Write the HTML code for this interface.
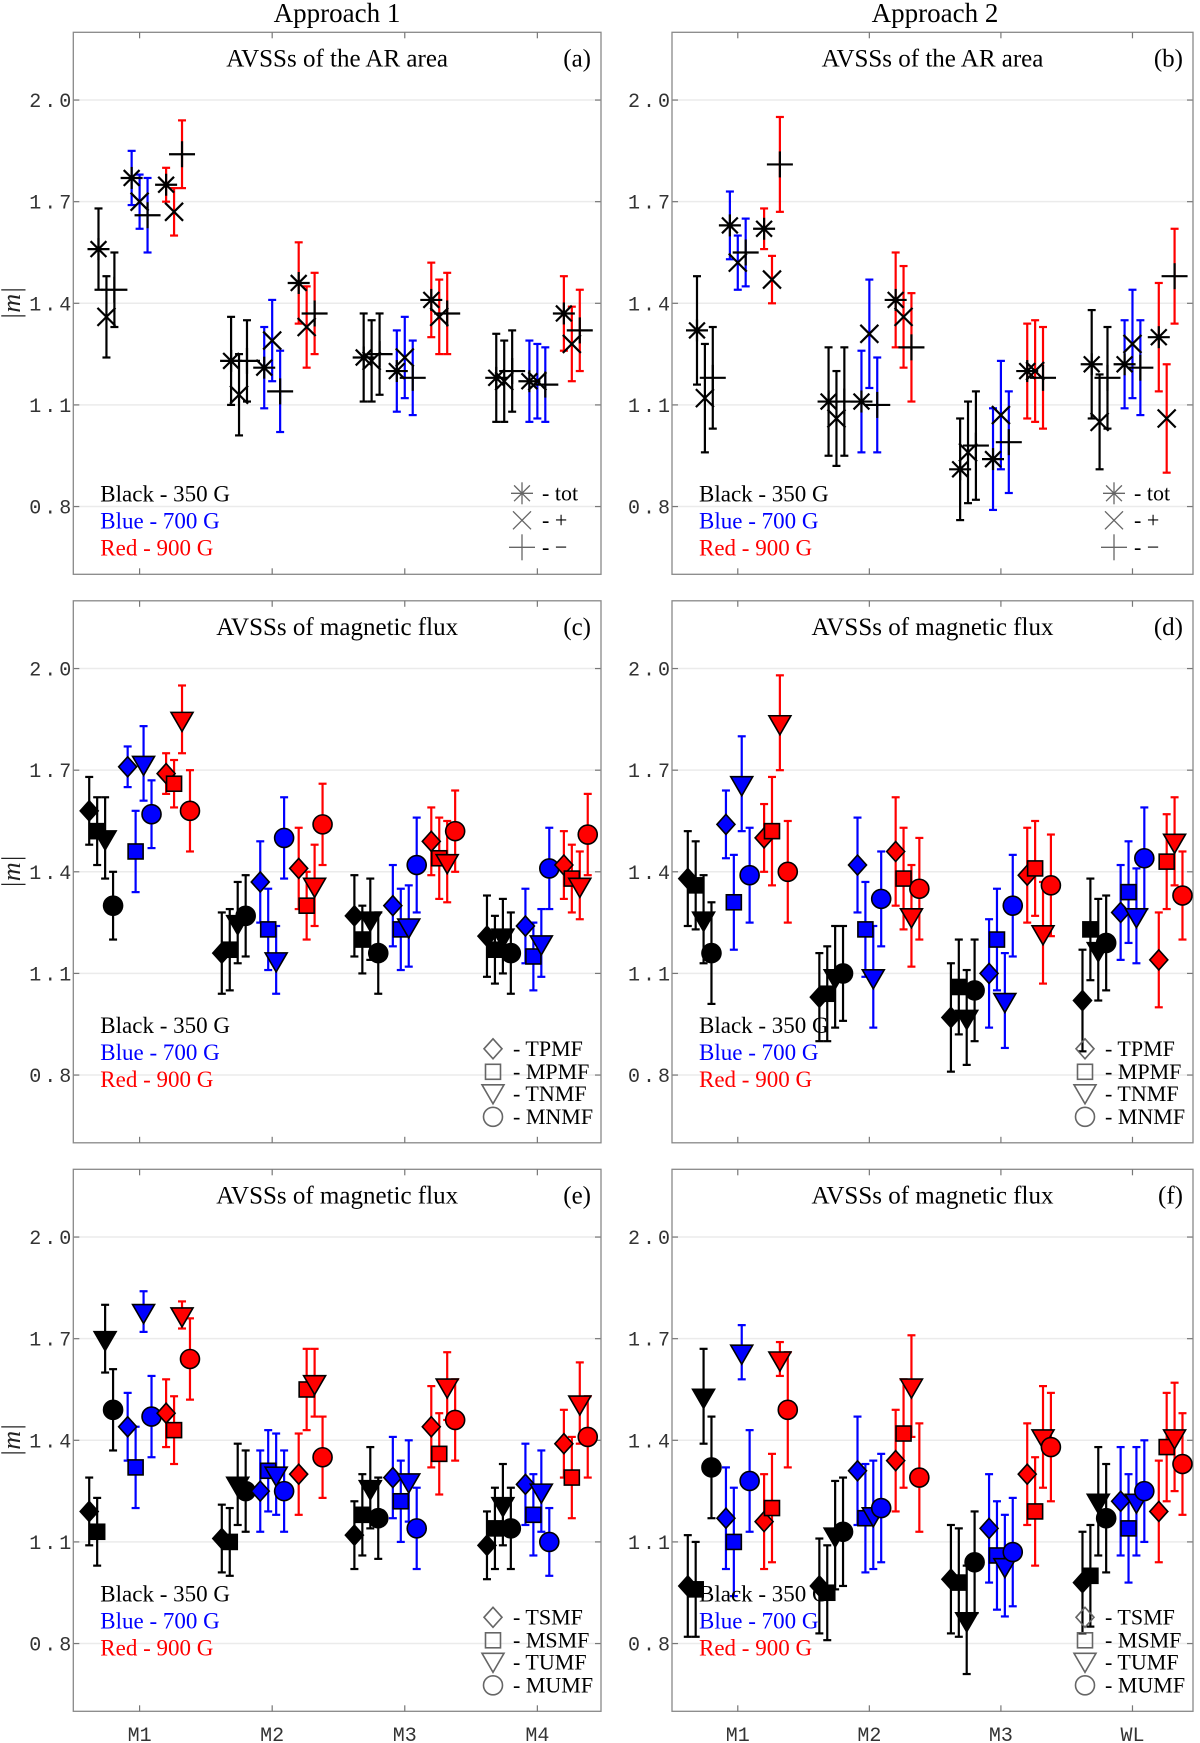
<!DOCTYPE html>
<html><head><meta charset="utf-8">
<style>
html,body{margin:0;padding:0;background:#fff;}
svg{display:block;}
</style></head>
<body>
<svg id="fig" width="1200" height="1743" viewBox="0 0 1200 1743" xmlns="http://www.w3.org/2000/svg"></svg>
<script>
// ---------- data ----------
const catsLeft = ["M1","M2","M3","M4"];
const catsRight = ["M1","M2","M3","WL"];
const yTicks = [0.8, 1.1, 1.4, 1.7, 2.0];
const yTickLabels = ["0.8","1.1","1.4","1.7","2.0"];
const colorNames = ["Black - 350 G","Blue - 700 G","Red - 900 G"];
const legendA = ["- tot","- +","- \u2212"];
const legendC = ["- TPMF","- MPMF","- TNMF","- MNMF"];
const legendE = ["- TSMF","- MSMF","- TUMF","- MUMF"];
const valsA = [
 [1.56,1.36,1.44, 1.77,1.70,1.66, 1.75,1.67,1.84],
 [1.23,1.13,1.23, 1.21,1.29,1.14, 1.46,1.33,1.37],
 [1.24,1.23,1.25, 1.20,1.24,1.18, 1.41,1.36,1.37],
 [1.18,1.17,1.20, 1.17,1.17,1.16, 1.37,1.28,1.32]];
const errsA = [
 [0.12,0.12,0.11, 0.08,0.08,0.11, 0.05,0.07,0.10],
 [0.13,0.12,0.12, 0.12,0.12,0.12, 0.12,0.12,0.12],
 [0.13,0.12,0.12, 0.12,0.12,0.11, 0.11,0.11,0.12],
 [0.13,0.12,0.12, 0.12,0.11,0.11, 0.11,0.11,0.12]];
const valsB = [
 [1.32,1.12,1.18, 1.63,1.52,1.55, 1.62,1.47,1.81],
 [1.11,1.06,1.11, 1.11,1.31,1.10, 1.41,1.36,1.27],
 [0.91,0.96,0.98, 0.94,1.07,0.99, 1.20,1.20,1.18],
 [1.22,1.05,1.18, 1.22,1.28,1.21, 1.30,1.06,1.48]];
const errsB = [
 [0.16,0.16,0.15, 0.10,0.08,0.10, 0.06,0.07,0.14],
 [0.16,0.14,0.16, 0.15,0.16,0.14, 0.14,0.15,0.16],
 [0.15,0.15,0.16, 0.15,0.16,0.15, 0.14,0.15,0.15],
 [0.16,0.14,0.15, 0.13,0.16,0.14, 0.16,0.16,0.14]];
const valsC = [
 [1.58,1.52,1.50,1.30, 1.71,1.46,1.72,1.57, 1.69,1.66,1.85,1.58],
 [1.16,1.17,1.25,1.27, 1.37,1.23,1.14,1.50, 1.41,1.30,1.36,1.54],
 [1.27,1.20,1.26,1.16, 1.30,1.23,1.24,1.42, 1.49,1.44,1.43,1.52],
 [1.21,1.17,1.21,1.16, 1.24,1.15,1.19,1.41, 1.42,1.38,1.36,1.51]];
const errsC = [
 [0.10,0.10,0.12,0.10, 0.06,0.12,0.11,0.10, 0.06,0.07,0.10,0.12],
 [0.12,0.12,0.12,0.12, 0.12,0.12,0.10,0.12, 0.12,0.10,0.12,0.12],
 [0.12,0.10,0.12,0.12, 0.12,0.12,0.12,0.14, 0.10,0.12,0.12,0.12],
 [0.12,0.10,0.11,0.12, 0.11,0.10,0.10,0.12, 0.10,0.10,0.10,0.12]];
const valsD = [
 [1.38,1.36,1.26,1.16, 1.54,1.31,1.66,1.39, 1.50,1.52,1.84,1.40],
 [1.03,1.04,1.09,1.10, 1.42,1.23,1.09,1.32, 1.46,1.38,1.27,1.35],
 [0.97,1.06,0.97,1.05, 1.10,1.20,1.02,1.30, 1.39,1.41,1.22,1.36],
 [1.02,1.23,1.17,1.19, 1.28,1.34,1.27,1.44, 1.14,1.43,1.49,1.33]];
const errsD = [
 [0.14,0.13,0.13,0.15, 0.10,0.14,0.14,0.14, 0.10,0.16,0.14,0.15],
 [0.13,0.14,0.15,0.14, 0.14,0.14,0.15,0.14, 0.16,0.15,0.15,0.15],
 [0.16,0.14,0.14,0.15, 0.16,0.15,0.14,0.15, 0.14,0.14,0.15,0.15],
 [0.15,0.15,0.15,0.14, 0.14,0.15,0.14,0.15, 0.14,0.14,0.13,0.13]];
const valsE = [
 [1.19,1.13,1.70,1.49, 1.44,1.32,1.78,1.47, 1.48,1.43,1.77,1.64],
 [1.11,1.10,1.27,1.25, 1.25,1.31,1.30,1.25, 1.30,1.55,1.57,1.35],
 [1.12,1.18,1.26,1.17, 1.29,1.22,1.28,1.14, 1.44,1.36,1.56,1.46],
 [1.09,1.14,1.21,1.14, 1.27,1.18,1.25,1.10, 1.39,1.29,1.51,1.41]];
const errsE = [
 [0.10,0.10,0.10,0.12, 0.10,0.12,0.06,0.12, 0.10,0.10,0.04,0.12],
 [0.10,0.10,0.12,0.12, 0.12,0.12,0.12,0.12, 0.12,0.12,0.10,0.12],
 [0.10,0.12,0.12,0.12, 0.12,0.12,0.12,0.12, 0.12,0.12,0.10,0.12],
 [0.10,0.12,0.12,0.12, 0.12,0.12,0.12,0.10, 0.10,0.12,0.12,0.12]];
const valsF = [
 [0.97,0.96,1.53,1.32, 1.17,1.10,1.66,1.28, 1.16,1.20,1.64,1.49],
 [0.97,0.95,1.12,1.13, 1.31,1.17,1.18,1.20, 1.34,1.42,1.56,1.29],
 [0.99,0.98,0.87,1.04, 1.14,1.06,1.03,1.07, 1.30,1.19,1.41,1.38],
 [0.98,1.00,1.22,1.17, 1.22,1.14,1.22,1.25, 1.19,1.38,1.41,1.33]];
const errsF = [
 [0.15,0.14,0.14,0.15, 0.15,0.16,0.08,0.15, 0.14,0.16,0.05,0.17],
 [0.14,0.14,0.16,0.16, 0.16,0.16,0.16,0.16, 0.15,0.16,0.15,0.16],
 [0.16,0.16,0.16,0.15, 0.16,0.16,0.15,0.16, 0.15,0.16,0.15,0.16],
 [0.15,0.15,0.16,0.16, 0.16,0.16,0.16,0.15, 0.15,0.16,0.16,0.15]];

// ---------- drawing ----------
const NS = "http://www.w3.org/2000/svg";
const svg = document.getElementById("fig");
const COLORS = ["#000000","#0000ff","#ff0000"];
const off3 = [[-0.31,-0.25,-0.19],[-0.06,0,0.06],[0.20,0.26,0.32]];
const off4 = [[-0.38,-0.32,-0.26,-0.20],[-0.09,-0.03,0.03,0.09],[0.20,0.26,0.32,0.38]];
const colL = [73.3, 672];
const colW = [527.7, 521];
const colXmax = [4.48, 4.46];
const rowT = [32.3, 600.8, 1169.3];
const PH = 542;
const YMIN = 0.6, YMAX = 2.2;

function el(tag, attrs, parent){
  const e = document.createElementNS(NS, tag);
  for (const k in attrs) e.setAttribute(k, attrs[k]);
  (parent||svg).appendChild(e);
  return e;
}
function txt(s, attrs, parent){ const t = el("text", attrs, parent); t.textContent = s; return t; }

function marker(g, kind, x, y, fill, stroke){
  let m;
  if (kind === "star"){
    m = el("g",{stroke:"#000","stroke-width":2.2},g);
    const r=11, d=r*0.72;
    el("line",{x1:x-r,y1:y,x2:x+r,y2:y},m);
    el("line",{x1:x,y1:y-r,x2:x,y2:y+r},m);
    el("line",{x1:x-d,y1:y-d,x2:x+d,y2:y+d},m);
    el("line",{x1:x-d,y1:y+d,x2:x+d,y2:y-d},m);
  } else if (kind === "x"){
    m = el("g",{stroke:"#000","stroke-width":2.2},g);
    const d=9;
    el("line",{x1:x-d,y1:y-d,x2:x+d,y2:y+d},m);
    el("line",{x1:x-d,y1:y+d,x2:x+d,y2:y-d},m);
  } else if (kind === "plus"){
    m = el("g",{stroke:"#000","stroke-width":2.2},g);
    const r=13;
    el("line",{x1:x-r,y1:y,x2:x+r,y2:y},m);
    el("line",{x1:x,y1:y-r,x2:x,y2:y+r},m);
  } else if (kind === "diamond"){
    const r=10;
    m = el("polygon",{points:`${x},${y-r} ${x+r*0.9},${y} ${x},${y+r} ${x-r*0.9},${y}`,fill:fill,stroke:stroke,"stroke-width":1.6},g);
  } else if (kind === "square"){
    const h=7.5;
    m = el("rect",{x:x-h,y:y-h,width:2*h,height:2*h,fill:fill,stroke:stroke,"stroke-width":1.6},g);
  } else if (kind === "tri"){
    const w=11;
    m = el("polygon",{points:`${x-w},${y-7} ${x+w},${y-7} ${x},${y+12}`,fill:fill,stroke:stroke,"stroke-width":1.6},g);
  } else if (kind === "circle"){
    m = el("circle",{cx:x,cy:y,r:9.5,fill:fill,stroke:stroke,"stroke-width":1.6},g);
  }
  return m;
}

const panels = [
  {id:"a", col:0,row:0, title:"AVSSs of the AR area", vals:valsA, errs:errsA, kinds:["star","x","plus"], legend:legendA, cats:catsLeft},
  {id:"b", col:1,row:0, title:"AVSSs of the AR area", vals:valsB, errs:errsB, kinds:["star","x","plus"], legend:legendA, cats:catsRight},
  {id:"c", col:0,row:1, title:"AVSSs of magnetic flux", vals:valsC, errs:errsC, kinds:["diamond","square","tri","circle"], legend:legendC, cats:catsLeft},
  {id:"d", col:1,row:1, title:"AVSSs of magnetic flux", vals:valsD, errs:errsD, kinds:["diamond","square","tri","circle"], legend:legendC, cats:catsRight},
  {id:"e", col:0,row:2, title:"AVSSs of magnetic flux", vals:valsE, errs:errsE, kinds:["diamond","square","tri","circle"], legend:legendE, cats:catsLeft},
  {id:"f", col:1,row:2, title:"AVSSs of magnetic flux", vals:valsF, errs:errsF, kinds:["diamond","square","tri","circle"], legend:legendE, cats:catsRight}
];

const ct1 = txt("Approach 1",{x:337,y:22,"text-anchor":"middle","font-family":"Liberation Serif, serif","font-size":27,fill:"#000"});


const ct2 = txt("Approach 2",{x:935,y:22,"text-anchor":"middle","font-family":"Liberation Serif, serif","font-size":27,fill:"#000"});



panels.forEach(p => {
  const L = colL[p.col], W = colW[p.col], T = rowT[p.row];
  const xmax = colXmax[p.col];
  const xs = v => L + (v - 0.5) / (xmax - 0.5) * W;
  const ys = v => T + (YMAX - v) / (YMAX - YMIN) * PH;
  const g = el("g",{});
  
  

  yTicks.forEach((t,i) => {
    const gl = el("line",{x1:L,x2:L+W,y1:ys(t),y2:ys(t),stroke:"#ebebeb","stroke-width":1.5},g);
    
    
    el("line",{x1:L,x2:L+6,y1:ys(t),y2:ys(t),stroke:"#777","stroke-width":1.2},g);
    el("line",{x1:L+W-6,x2:L+W,y1:ys(t),y2:ys(t),stroke:"#777","stroke-width":1.2},g);
    const tl = txt(yTickLabels[i],{x:L+1,y:ys(t)+7,"text-anchor":"end","font-family":"Liberation Mono, monospace","font-size":20,"letter-spacing":"3","fill":"#333"},g);
    
    
  });
  const fr = el("rect",{x:L,y:T,width:W,height:PH,fill:"none",stroke:"#888","stroke-width":1.3},g);
  
  
  p.cats.forEach((c,i) => {
    const x = xs(i+1);
    el("line",{x1:x,x2:x,y1:T,y2:T+6,stroke:"#777","stroke-width":1.2},g);
    el("line",{x1:x,x2:x,y1:T+PH-6,y2:T+PH,stroke:"#777","stroke-width":1.2},g);
    if (p.row === 2){
      const xl = txt(c,{x:x,y:1741,"text-anchor":"middle","font-family":"Liberation Mono, monospace","font-size":20,fill:"#333"});
      
      
    }
  });
  if (p.col === 0){
    const yl = txt("|m|",{x:0,y:0,"text-anchor":"middle","font-family":"Liberation Serif, serif","font-style":"italic","font-size":26,fill:"#222",transform:`translate(20,${T+PH/2}) rotate(-90)`},g);
    
    
  }
  const tt = txt(p.title,{x:L+W/2,y:T+34,"text-anchor":"middle","font-family":"Liberation Serif, serif","font-size":25,fill:"#000"},g);
  
  
  const pl = txt("("+p.id+")",{x:L+W-10,y:T+34,"text-anchor":"end","font-family":"Liberation Serif, serif","font-size":25,fill:"#000"},g);
  
  

  const nk = p.kinds.length;
  const offs = nk === 3 ? off3 : off4;
  const filled = nk === 4;
  p.vals.forEach((row, ci) => {
    row.forEach((v, j) => {
      const col = Math.floor(j / nk), k = j % nk;
      const x = xs(ci + 1 + offs[col][k]);
      const e = p.errs[ci][j];
      const eb = el("g",{stroke:COLORS[col],"stroke-width":2.2},g);
      
      
      el("line",{x1:x,x2:x,y1:ys(v+e),y2:ys(v-e)},eb);
      el("line",{x1:x-4,x2:x+4,y1:ys(v+e),y2:ys(v+e)},eb);
      el("line",{x1:x-4,x2:x+4,y1:ys(v-e),y2:ys(v-e)},eb);
    });
  });
  p.vals.forEach((row, ci) => {
    row.forEach((v, j) => {
      const col = Math.floor(j / nk), k = j % nk;
      const x = xs(ci + 1 + offs[col][k]);
      const m = marker(g, p.kinds[k], x, ys(v), filled ? COLORS[col] : "none", "#000");
      
      
    });
  });

  const legY = nk === 3 ? [T+469, T+496, T+523] : [T+432, T+459, T+486];
  colorNames.forEach((n,i) => {
    const lt = txt(n,{x:L+27,y:legY[i],"font-family":"Liberation Serif, serif","font-size":23,fill:COLORS[i]},g);
    
    
  });
  const mly = nk === 3 ? [T+461, T+488, T+515] : [T+448, T+471, T+493, T+516];
  const mx = nk === 3 ? L + W - 79 : L + W - 108;
  p.legend.forEach((n,i) => {
    const lg = el("g",{},g);
    
    
    if (nk === 3){
      const mm = marker(lg, p.kinds[i], mx, mly[i], "none", "#000");
      mm.setAttribute('stroke','#666');
      mm.setAttribute('stroke-width','1.3');
    } else {
      marker(lg, p.kinds[i], mx, mly[i] - (p.kinds[i]==="tri"?2:0), "none", "#666");
    }
    txt(n,{x:mx+20,y:mly[i]+7,"font-family":"Liberation Serif, serif","font-size":22,fill:"#000"},lg);
  });
});
</script>
</body></html>
